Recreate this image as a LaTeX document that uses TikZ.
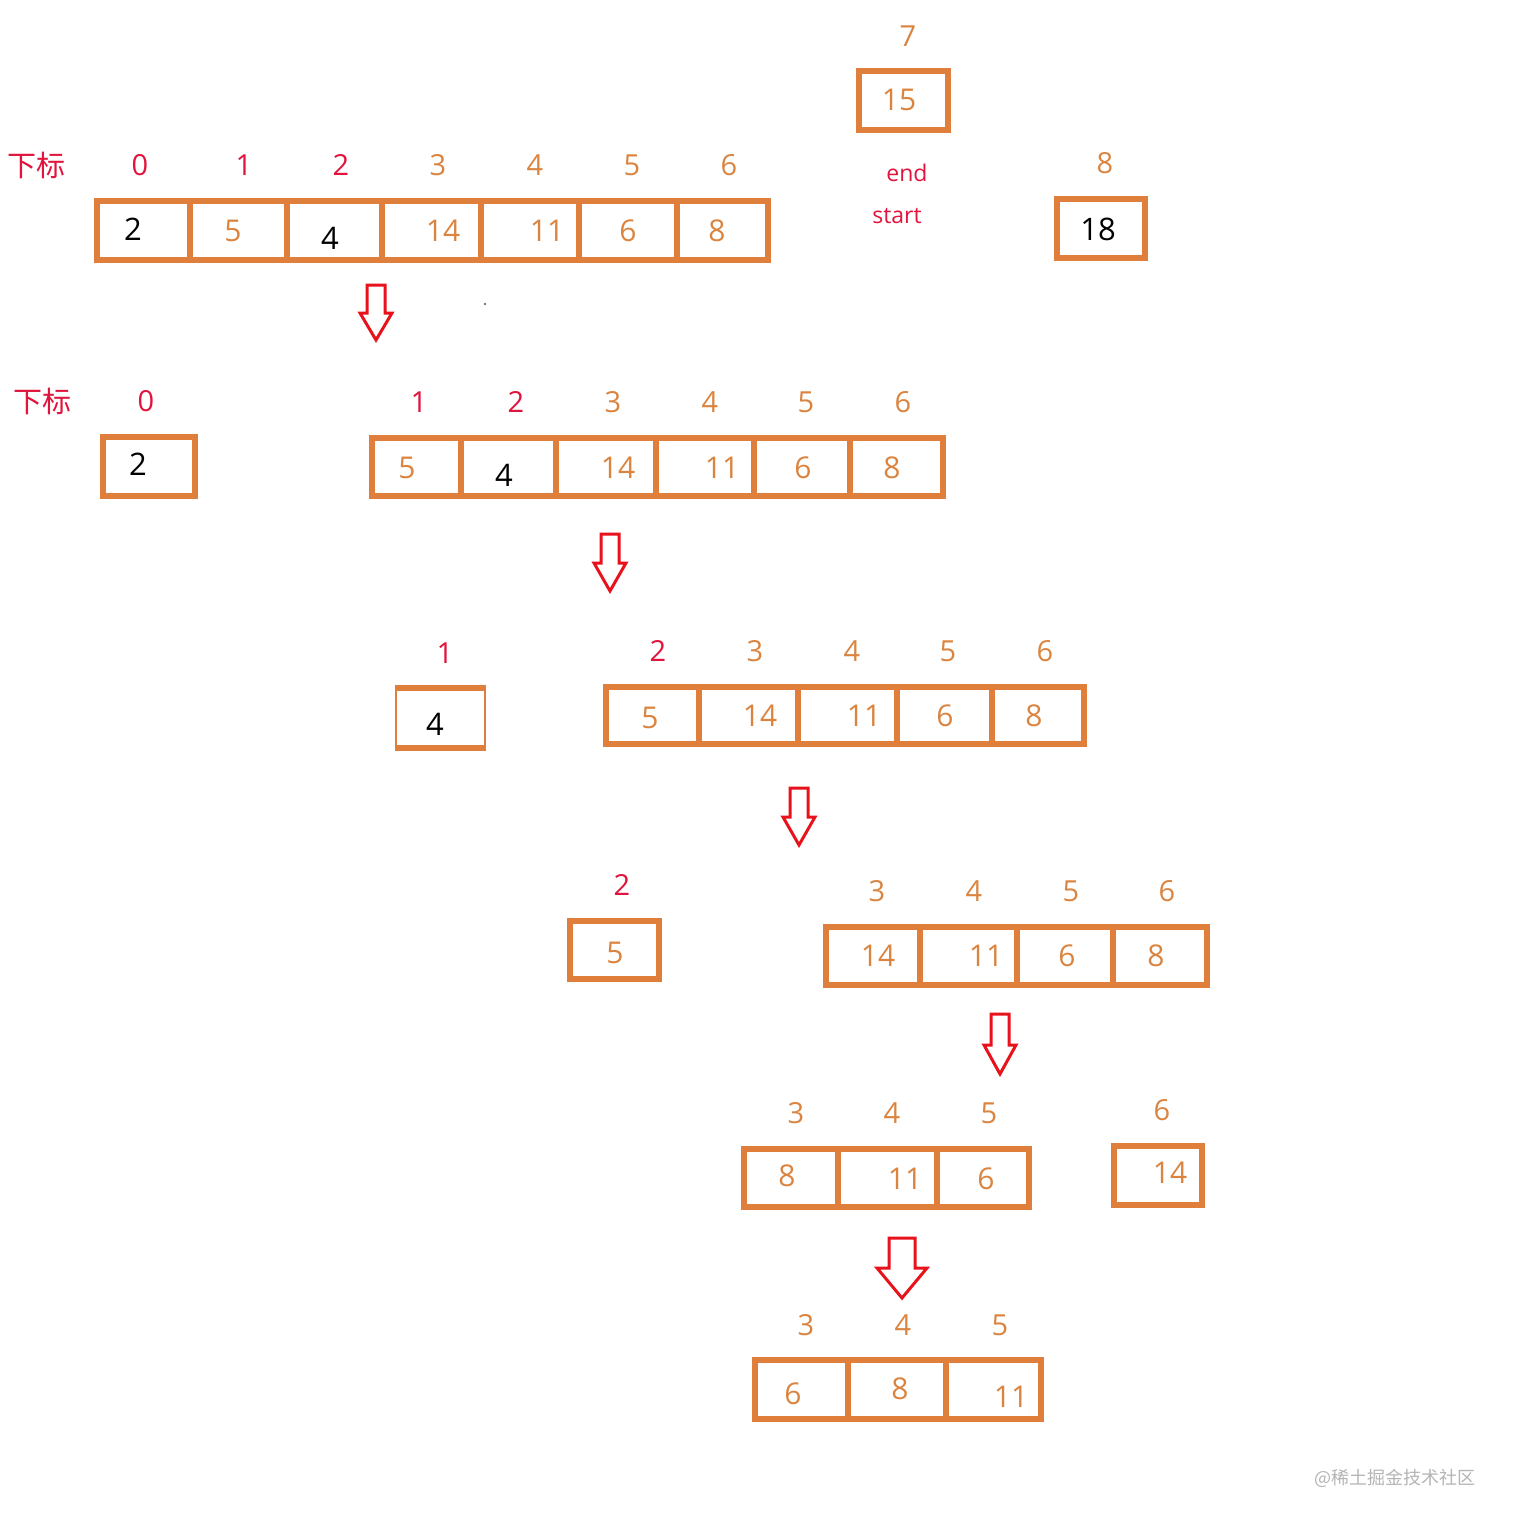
\documentclass[tikz,border=0pt]{standalone}
\usepackage{fontspec}
\setmainfont{Open Sans}
\newfontfamily\cjk{Noto Sans CJK SC}
\definecolor{boxor}{HTML}{E07E3C}
\definecolor{txtor}{HTML}{DA8440}
\definecolor{idxred}{HTML}{E0143C}
\definecolor{arrred}{HTML}{E8121C}
\definecolor{wmgray}{HTML}{B4B4B4}
\newcommand\downarr[6]{\draw[arr] (#1-#5,#2) -- (#1+#5,#2) -- (#1+#5,#3) -- (#1+#6,#3) -- (#1,#4) -- (#1-#6,#3) -- (#1-#5,#3) -- cycle;}
\begin{document}
\begin{tikzpicture}[x=0.5pt,y=-0.5pt,
  box/.style={draw=boxor,line width=2.9pt},
  thin/.style={draw=boxor,line width=0.8pt},
  val/.style={text=txtor,font=\fontsize{15}{15}\selectfont,inner sep=0pt},
  blk/.style={text=black,font=\fontsize{15.5}{15}\selectfont,inner sep=0pt},
  idx/.style={text=txtor,font=\fontsize{14.5}{15}\selectfont,inner sep=0pt},
  idr/.style={text=idxred,font=\fontsize{14.5}{15}\selectfont,inner sep=0pt},
  lab/.style={text=idxred,font=\cjk\fontsize{14.5}{15}\selectfont,inner sep=0pt},
  word/.style={text=idxred,font=\fontsize{11.5}{12}\selectfont,inner sep=0pt},
  arr/.style={draw=arrred,line width=1.5pt,fill=white,line join=miter}]
\useasboundingbox (0,0) rectangle (1512,1527);

% ---------- row 1 ----------
\node[lab] (l1) at (37,165) {下标};
\node[idr] (a0) at (140,165) {0};
\node[idr] (a1) at (244,165) {1};
\node[idr] (a2) at (341,165) {2};
\node[idx] (a3) at (438,165) {3};
\node[idx] (a4) at (535,165) {4};
\node[idx] (a5) at (632,165) {5};
\node[idx] (a6) at (729,165) {6};
\draw[box] (97,201) rectangle (768,260);
\foreach \x in {190,287,382,481,579,677} \draw[box] (\x,200) -- (\x,261);
\node[blk] (av0) at (133,229) {2};
\node[val] (av1) at (233,231) {5};
\node[blk] (av2) at (330,238) {4};
\node[val] (av3) at (443,231) {14};
\node[val] (av4) at (547,231) {11};
\node[val] (av5) at (628,231) {6};
\node[val] (av6) at (717,231) {8};

\node[idx] (a7) at (908,36) {7};
\draw[box] (859,71) rectangle (948,130);
\node[val] (av7) at (899,100) {15};
\node[word] (end) at (907,173) {end};
\node[word] (start) at (897,216) {start};
\node[idx] (a8) at (1105,163) {8};
\draw[box] (1057,199) rectangle (1145,258);
\node[blk] (av8) at (1098,229) {18};

\downarr{376}{285}{313}{340}{9}{16}
\fill[black!70] (485,304) circle (1.2);

% ---------- row 2 ----------
\node[lab] (l2) at (42,401) {下标};
\node[idr] (b0) at (146,401) {0};
\draw[box] (103,437) rectangle (195,496);
\node[blk] (bv0) at (138,464) {2};
\node[idr] (b1) at (419,402) {1};
\node[idr] (b2) at (516,402) {2};
\node[idx] (b3) at (613,402) {3};
\node[idx] (b4) at (710,402) {4};
\node[idx] (b5) at (806,402) {5};
\node[idx] (b6) at (903,402) {6};
\draw[box] (372,438) rectangle (943,496);
\foreach \x in {461,556,656,754,850} \draw[box] (\x,437) -- (\x,497);
\node[val] (bv1) at (407,468) {5};
\node[blk] (bv2) at (504,475) {4};
\node[val] (bv3) at (618,468) {14};
\node[val] (bv4) at (722,468) {11};
\node[val] (bv5) at (803,468) {6};
\node[val] (bv6) at (892,468) {8};

\downarr{610}{534}{563}{591}{9}{16}

% ---------- row 3 ----------
\node[idr] (c1) at (445,653) {1};
\draw[thin] (396,686) rectangle (485,750);
\draw[box] (395,688) -- (486,688);
\draw[box] (395,748) -- (486,748);
\node[blk] (cv1) at (435,724) {4};
\node[idr] (c2) at (658,651) {2};
\node[idx] (c3) at (755,651) {3};
\node[idx] (c4) at (852,651) {4};
\node[idx] (c5) at (948,651) {5};
\node[idx] (c6) at (1045,651) {6};
\draw[box] (606,687) rectangle (1084,744);
\foreach \x in {699,798,897,992} \draw[box] (\x,686) -- (\x,745);
\node[val] (cv2) at (650,718) {5};
\node[val] (cv3) at (760,716) {14};
\node[val] (cv4) at (864,716) {11};
\node[val] (cv5) at (945,716) {6};
\node[val] (cv6) at (1034,716) {8};

\downarr{799}{788}{817}{845}{9}{16}

% ---------- row 4 ----------
\node[idr] (d2) at (622,885) {2};
\draw[box] (570,921) rectangle (659,979);
\node[val] (dv2) at (615,953) {5};
\node[idx] (d3) at (877,891) {3};
\node[idx] (d4) at (974,891) {4};
\node[idx] (d5) at (1071,891) {5};
\node[idx] (d6) at (1167,891) {6};
\draw[box] (826,927) rectangle (1207,985);
\foreach \x in {920,1017,1113} \draw[box] (\x,926) -- (\x,986);
\node[val] (dv3) at (878,956) {14};
\node[val] (dv4) at (986,956) {11};
\node[val] (dv5) at (1067,956) {6};
\node[val] (dv6) at (1156,956) {8};

\downarr{1000}{1014}{1045}{1074}{9}{16}

% ---------- row 5 ----------
\node[idx] (e3) at (796,1113) {3};
\node[idx] (e4) at (892,1113) {4};
\node[idx] (e5) at (989,1113) {5};
\draw[box] (744,1149) rectangle (1029,1207);
\foreach \x in {838,937} \draw[box] (\x,1148) -- (\x,1208);
\node[val] (ev3) at (787,1176) {8};
\node[val] (ev4) at (905,1179) {11};
\node[val] (ev5) at (986,1179) {6};
\node[idx] (e6) at (1162,1110) {6};
\draw[box] (1114,1146) rectangle (1202,1205);
\node[val] (ev6) at (1170,1173) {14};

\downarr{902}{1238}{1268}{1298}{13}{25}

% ---------- row 6 ----------
\node[idx] (f3) at (806,1325) {3};
\node[idx] (f4) at (903,1325) {4};
\node[idx] (f5) at (1000,1325) {5};
\draw[box] (755,1360) rectangle (1041,1419);
\foreach \x in {848,946} \draw[box] (\x,1359) -- (\x,1420);
\node[val] (fv3) at (793,1394) {6};
\node[val] (fv4) at (900,1389) {8};
\node[val] (fv5) at (1011,1397) {11};

\node[text=wmgray,font=\cjk\fontsize{9}{10}\selectfont,inner sep=0pt] (wm) at (1395,1478) {@稀土掘金技术社区};
\end{tikzpicture}
\end{document}
